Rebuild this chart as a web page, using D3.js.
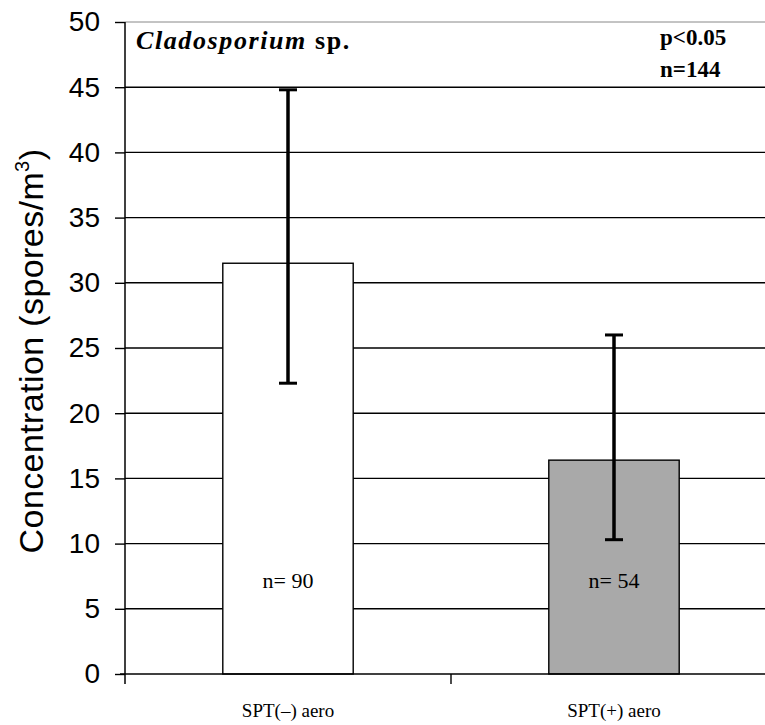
<!DOCTYPE html>
<html>
<head>
<meta charset="utf-8">
<script src="https://cdn.jsdelivr.net/npm/d3@7"></script>
<style>
  body { margin: 0; background: #fff; }
  svg { display: block; }
</style>
</head>
<body>
<div id="chart"></div>
<script>
var groups = ["SPT(\u2013) aero", "SPT(+) aero"];
var means = [31.5, 16.4];
var errLow = [22.3, 10.3];
var errHigh = [44.8, 26.0];
var counts = ["n= 90", "n= 54"];
var fills = ["#ffffff", "#a9a9a9"];
var yTicks = [0, 5, 10, 15, 20, 25, 30, 35, 40, 45, 50];

var width = 765, height = 725,
	plotLeft = 125, plotTop = 22, plotBottom = 674, plotRight = 777;

var svg = d3.select("#chart")
	.append("svg")
	.attr("width", width)
	.attr("height", height);

var y = d3.scaleLinear().domain([0, 50]).range([plotBottom, plotTop]);
var x = d3.scaleBand().domain(groups).range([plotLeft, plotRight]);
var barW = x.bandwidth() * 0.4;

// grid lines
svg.selectAll("line.grid")
	.data(yTicks.filter(function(d){ return d > 0; }))
	.enter()
	.append("line")
	.attr("x1", plotLeft).attr("x2", width)
	.attr("y1", function(d){ return y(d); })
	.attr("y2", function(d){ return y(d); })
	.attr("stroke", function(d){ return d == 50 ? "#888" : "#000"; })
	.attr("stroke-width", function(d){ return d == 50 ? 1 : 1.4; });

// bars
svg.selectAll("rect.bar")
	.data(groups)
	.enter()
	.append("rect")
	.attr("x", function(d){ return x(d) + (x.bandwidth() - barW) / 2; })
	.attr("width", barW)
	.attr("y", function(d, i){ return y(means[i]); })
	.attr("height", function(d, i){ return y(0) - y(means[i]); })
	.attr("fill", function(d, i){ return fills[i]; })
	.attr("stroke", "#000")
	.attr("stroke-width", 1.4);

// error bars
var eb = svg.selectAll("g.err")
	.data(groups)
	.enter()
	.append("g")
	.attr("stroke", "#000");
eb.append("line")
	.attr("stroke-width", 3.5)
	.attr("x1", function(d){ return x(d) + x.bandwidth() / 2; })
	.attr("x2", function(d){ return x(d) + x.bandwidth() / 2; })
	.attr("y1", function(d, i){ return y(errLow[i]); })
	.attr("y2", function(d, i){ return y(errHigh[i]); });
[errLow, errHigh].forEach(function(arr) {
	eb.append("line")
		.attr("stroke-width", 3)
		.attr("x1", function(d){ return x(d) + x.bandwidth() / 2 - 9; })
		.attr("x2", function(d){ return x(d) + x.bandwidth() / 2 + 9; })
		.attr("y1", function(d, i){ return y(arr[i]); })
		.attr("y2", function(d, i){ return y(arr[i]); });
});

// n labels in bars
svg.selectAll("text.n")
	.data(groups)
	.enter()
	.append("text")
	.attr("x", function(d){ return x(d) + x.bandwidth() / 2; })
	.attr("y", y(0) - 86)
	.attr("text-anchor", "middle")
	.style("font-family", "'Liberation Serif', serif")
	.style("font-size", "22px")
	.text(function(d, i){ return counts[i]; });

// y axis
var yAxis = d3.axisLeft(y).tickValues(yTicks).tickSize(10).tickPadding(15);
var ya = svg.append("g")
	.attr("transform", "translate(" + plotLeft + ",0)")
	.call(yAxis);
ya.select(".domain").remove();
ya.selectAll(".tick line").attr("stroke", "#000").attr("stroke-width", 1.4);
ya.selectAll("text")
	.style("font-family", "'Liberation Sans', Arial, sans-serif")
	.style("font-size", "28px")
	.attr("fill", "#000");
svg.append("line")
	.attr("x1", plotLeft).attr("x2", plotLeft)
	.attr("y1", plotTop).attr("y2", plotBottom + 10)
	.attr("stroke", "#000").attr("stroke-width", 1.5);

// x axis
var xa = svg.append("g")
	.attr("transform", "translate(0," + plotBottom + ")")
	.call(d3.axisBottom(x).tickSize(0).tickPadding(30));
xa.select(".domain").remove();
xa.selectAll("text")
	.attr("dy", null)
	.attr("y", 43)
	.style("font-family", "'Liberation Serif', serif")
	.style("font-size", "19px")
	.attr("fill", "#000");
svg.append("line")
	.attr("x1", plotLeft - 5).attr("x2", width)
	.attr("y1", plotBottom).attr("y2", plotBottom)
	.attr("stroke", "#000").attr("stroke-width", 1.5);
svg.append("line")
	.attr("x1", x(groups[1])).attr("x2", x(groups[1]))
	.attr("y1", plotBottom).attr("y2", plotBottom + 10)
	.attr("stroke", "#000").attr("stroke-width", 1.4);

// y label
var yl = svg.append("text")
	.attr("transform", "translate(43,351) rotate(-90)")
	.attr("text-anchor", "middle")
	.style("font-family", "'Liberation Sans', Arial, sans-serif")
	.style("font-size", "34px")
	.style("letter-spacing", "0.4px");
yl.append("tspan").text("Concentration (spores/m");
yl.append("tspan").attr("dy", -14).style("font-size", "20px").text("3");
yl.append("tspan").attr("dy", 14).text(")");

// title & stats
var t = svg.append("text")
	.attr("x", 136).attr("y", 49)
	.style("font-family", "'Liberation Serif', serif")
	.style("font-size", "26px")
	.style("font-weight", "bold")
	.style("letter-spacing", "1.6px");
t.append("tspan").style("font-style", "italic").text("Cladosporium");
t.append("tspan").text(" sp.");

svg.append("text")
	.attr("x", 660).attr("y", 45)
	.style("font-family", "'Liberation Serif', serif")
	.style("font-size", "23px")
	.style("font-weight", "bold")
	.text("p<0.05");
svg.append("text")
	.attr("x", 660).attr("y", 77)
	.style("font-family", "'Liberation Serif', serif")
	.style("font-size", "23px")
	.style("font-weight", "bold")
	.text("n=144");
</script>
</body>
</html>
